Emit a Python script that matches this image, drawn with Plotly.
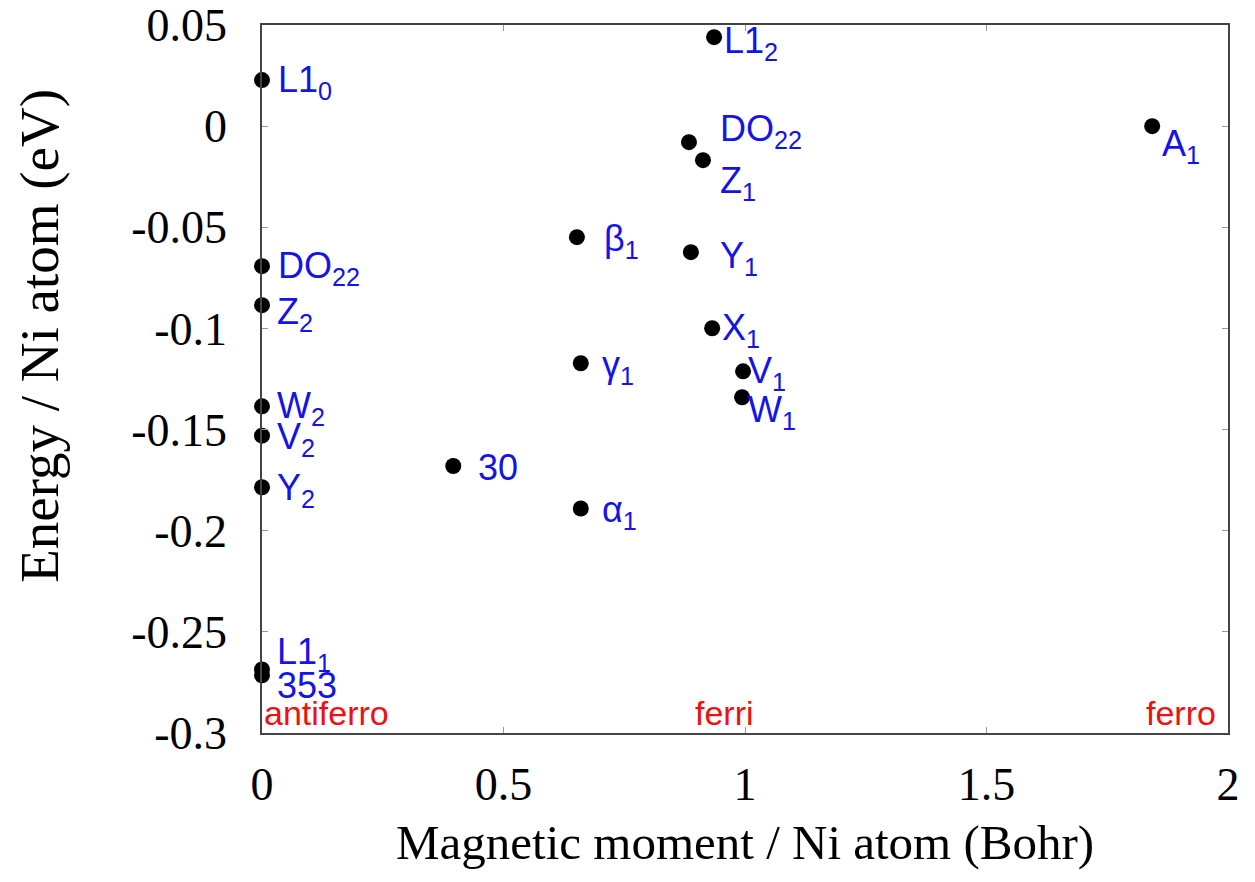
import plotly.graph_objects as go

# magnetic moment per Ni atom (Bohr) and energy per Ni atom (eV)
moment = [0.0, 0.936, 0.884, 0.913, 1.843, 0.652, 0.888, 0.932, 0.996, 0.994,
          0.660, 0.396, 0.660, 0.0, 0.0, 0.0, 0.0, 0.0, 0.0, 0.0]
energy = [0.0228, 0.0440, -0.0079, -0.0168, 0.0, -0.0549, -0.0623, -0.0999, -0.1212, -0.1340,
          -0.1172, -0.1680, -0.1890, -0.0692, -0.0885, -0.1385, -0.1530, -0.1785, -0.2686, -0.2715]
names = ["L1<sub>0</sub>", "L1<sub>2</sub>", "DO<sub>22</sub>", "Z<sub>1</sub>", "A<sub>1</sub>",
         "β<sub>1</sub>", "Y<sub>1</sub>", "X<sub>1</sub>", "V<sub>1</sub>", "W<sub>1</sub>",
         "γ<sub>1</sub>", "30", "α<sub>1</sub>", "DO<sub>22</sub>", "Z<sub>2</sub>",
         "W<sub>2</sub>", "V<sub>2</sub>", "Y<sub>2</sub>", "L1<sub>1</sub>", "353"]

# label offsets in pixels (right, down)
label_dx = [14, 8, 29, 15, 8, 25, 27, 8, 3, 4, 19, 23, 19, 14, 13, 13, 13, 13, 13, 13]
label_dy = [0, 4, -13, 21, 18, 2, 4, 0, 0, 13, 2, 0, 2, 0, 7, 0, 1, 1, -17, 8]

region_names = ["antiferro", "ferri", "ferro"]
region_x = [0.0, 0.958, 1.98]
region_anchor = ["left", "center", "right"]

x_ticks = [0, 0.5, 1, 1.5, 2]
x_ticktext = ["0", "0.5", "1", "1.5", "2"]
y_ticks = [0.05, 0, -0.05, -0.1, -0.15, -0.2, -0.25, -0.3]
y_ticktext = ["0.05", "0", "-0.05", "-0.1", "-0.15", "-0.2", "-0.25", "-0.3"]

fig = go.Figure()
fig.add_trace(go.Scatter(x=moment, y=energy, mode="markers",
                         marker=dict(color="black", size=16), cliponaxis=False,
                         showlegend=False))

for i in range(len(names)):
    fig.add_annotation(x=moment[i], y=energy[i], text=names[i], showarrow=False,
                       xanchor="left", yanchor="middle", xshift=label_dx[i], yshift=-label_dy[i] - 2,
                       font=dict(family="Liberation Sans", size=36, color="#1414e6"))

for i in range(len(region_names)):
    fig.add_annotation(x=region_x[i], y=-0.3, text=region_names[i], showarrow=False,
                       xanchor=region_anchor[i], yanchor="bottom", yshift=-1,
                       font=dict(family="Liberation Sans", size=34, color="#ee1111"))

# axis titles
fig.add_annotation(x=0.5, y=-0.155, xref="paper", yref="paper", xanchor="center", yanchor="middle",
                   text="Magnetic moment / Ni atom (Bohr)", showarrow=False,
                   font=dict(family="Liberation Serif", size=49, color="black"))
fig.add_annotation(x=0, y=0.561, xref="paper", yref="paper", xanchor="center", yanchor="middle",
                   xshift=-222, textangle=-90, text="Energy / Ni atom (eV)", showarrow=False,
                   font=dict(family="Liberation Serif", size=55, color="black"))

axis_style = dict(showline=True, linecolor="#444444", linewidth=1.5, mirror="allticks",
                  ticks="inside", ticklen=6, tickcolor="#999999", showgrid=False, zeroline=False,
                  ticklabeloverflow="allow",
                  tickfont=dict(family="Liberation Serif", size=46, color="black"))

fig.update_xaxes(range=[0, 2], tickvals=x_ticks, ticktext=x_ticktext, ticklabelstandoff=10,
                 **axis_style)
fig.update_yaxes(range=[-0.3, 0.05001], tickvals=y_ticks, ticktext=y_ticktext, ticklabelstandoff=24,
                 **axis_style)

fig.update_layout(width=1247, height=874, plot_bgcolor="white", paper_bgcolor="white",
                  margin=dict(l=254, r=27, t=17, b=149, autoexpand=False))

fig.write_html("out.html")
